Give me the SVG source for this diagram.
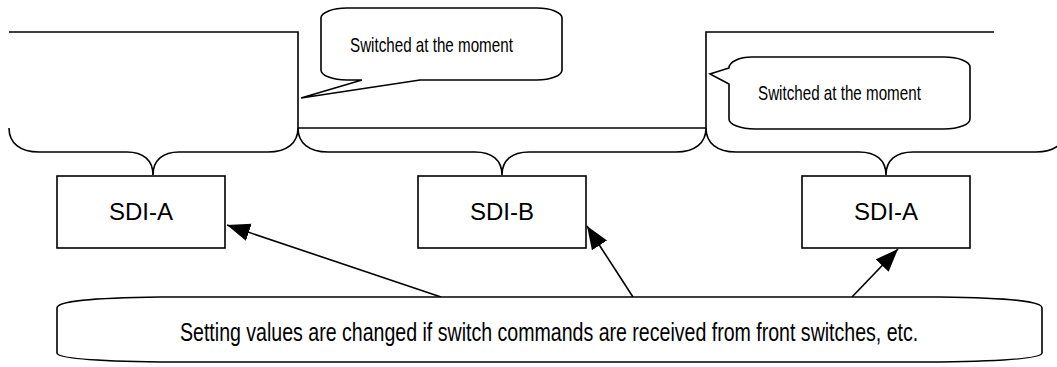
<svg xmlns="http://www.w3.org/2000/svg" width="1057" height="367" viewBox="0 0 1057 367">
  <style>
    .ln { fill: none; stroke: #000; stroke-width: 1.6; stroke-linejoin: miter; }
    .box { fill: #fff; stroke: #000; stroke-width: 1.6; }
    .call { fill: #fff; stroke: #000; stroke-width: 1.6; stroke-linejoin: miter; }
    .lbl { font-family: "Liberation Sans", Arial, sans-serif; font-size: 24px; fill: #000; text-anchor: middle; }
    .note { font-family: "Liberation Sans", Arial, sans-serif; font-size: 19.5px; fill: #000; }
    .big { font-family: "Liberation Sans", Arial, sans-serif; font-size: 25px; fill: #000; }
    .arr { fill: none; stroke: #000; stroke-width: 1.6; }
  </style>
  <defs>
    <marker id="ah" markerUnits="userSpaceOnUse" markerWidth="26" markerHeight="20" refX="23" refY="9" orient="auto">
      <path d="M0,0 L23,9 L0,18 Z" fill="#000"/>
    </marker>
  </defs>
  <rect width="1057" height="367" fill="#fff"/>

  <g id="frame-lines">
    <path class="ln" d="M9,32 H298 V128"/>
    <path class="ln" d="M298,128 H706"/>
    <path class="ln" d="M994,32 H706 V128"/>
  </g>

  <g id="brace-left">
    <path class="ln" d="M9,128 C9,143 20,152 39,152 H127 C143,152 153,160 153,175 C153,160 163,152 179,152 H268 C287,152 298,143 298,128"/>
  </g>
  <g id="brace-middle">
    <path class="ln" d="M298,128 C298,143 309,152 328,152 H475 C492,152 502,160 502,175 C502,160 512,152 529,152 H676 C695,152 706,143 706,128"/>
  </g>
  <g id="brace-right">
    <path class="ln" d="M706,128 C706,143 717,152 736,152 H859 C876,152 886,160 886,175 C886,160 896,152 913,152 H1036 C1055,152 1066,143 1066,128"/>
  </g>

  <g id="callout-1">
    <path class="call" d="M347,8 H537 A25,10 0 0 1 562,18 V70 A25,10 0 0 1 537,80 H420 L301,98 L362,80 H347 A26,10 0 0 1 321,70 V18 A26,10 0 0 1 347,8 Z"/>
    <text class="note" transform="translate(350,52) scale(0.779,1)">Switched at the moment</text>
  </g>

  <g id="callout-2">
    <path class="call" d="M752,57 H944 A26,10 0 0 1 970,67 V119 A26,10 0 0 1 944,129 H755 A26,10 0 0 1 729,119 V84 L710,74 L729,68 A23,11 0 0 1 752,57 Z"/>
    <text class="note" transform="translate(758,100) scale(0.779,1)">Switched at the moment</text>
  </g>

  <g id="sdi-a-1">
    <rect class="box" x="57" y="176" width="168" height="72"/>
    <text class="lbl" x="141" y="220">SDI-A</text>
  </g>
  <g id="sdi-b">
    <rect class="box" x="418" y="176" width="168" height="72"/>
    <text class="lbl" x="502" y="220">SDI-B</text>
  </g>
  <g id="sdi-a-2">
    <rect class="box" x="802" y="176" width="168" height="72"/>
    <text class="lbl" x="886" y="220">SDI-A</text>
  </g>

  <g id="connectors">
    <path class="arr" d="M441,297 L227,225" marker-end="url(#ah)"/>
    <path class="arr" d="M633,297 L587,226" marker-end="url(#ah)"/>
    <path class="arr" d="M852,297 L898,249" marker-end="url(#ah)"/>
  </g>

  <g id="bottom-callout">
    <path class="call" d="M160,297 H940 C1010,298 1042,301 1042,308 V353 C1042,358 1010,361 940,362 H160 C90,361 57,358 57,353 V308 C57,301 90,298 160,297 Z"/>
    <text class="big" transform="translate(180,341) scale(0.783,1)">Setting values are changed if switch commands are received from front switches, etc.</text>
  </g>
</svg>
